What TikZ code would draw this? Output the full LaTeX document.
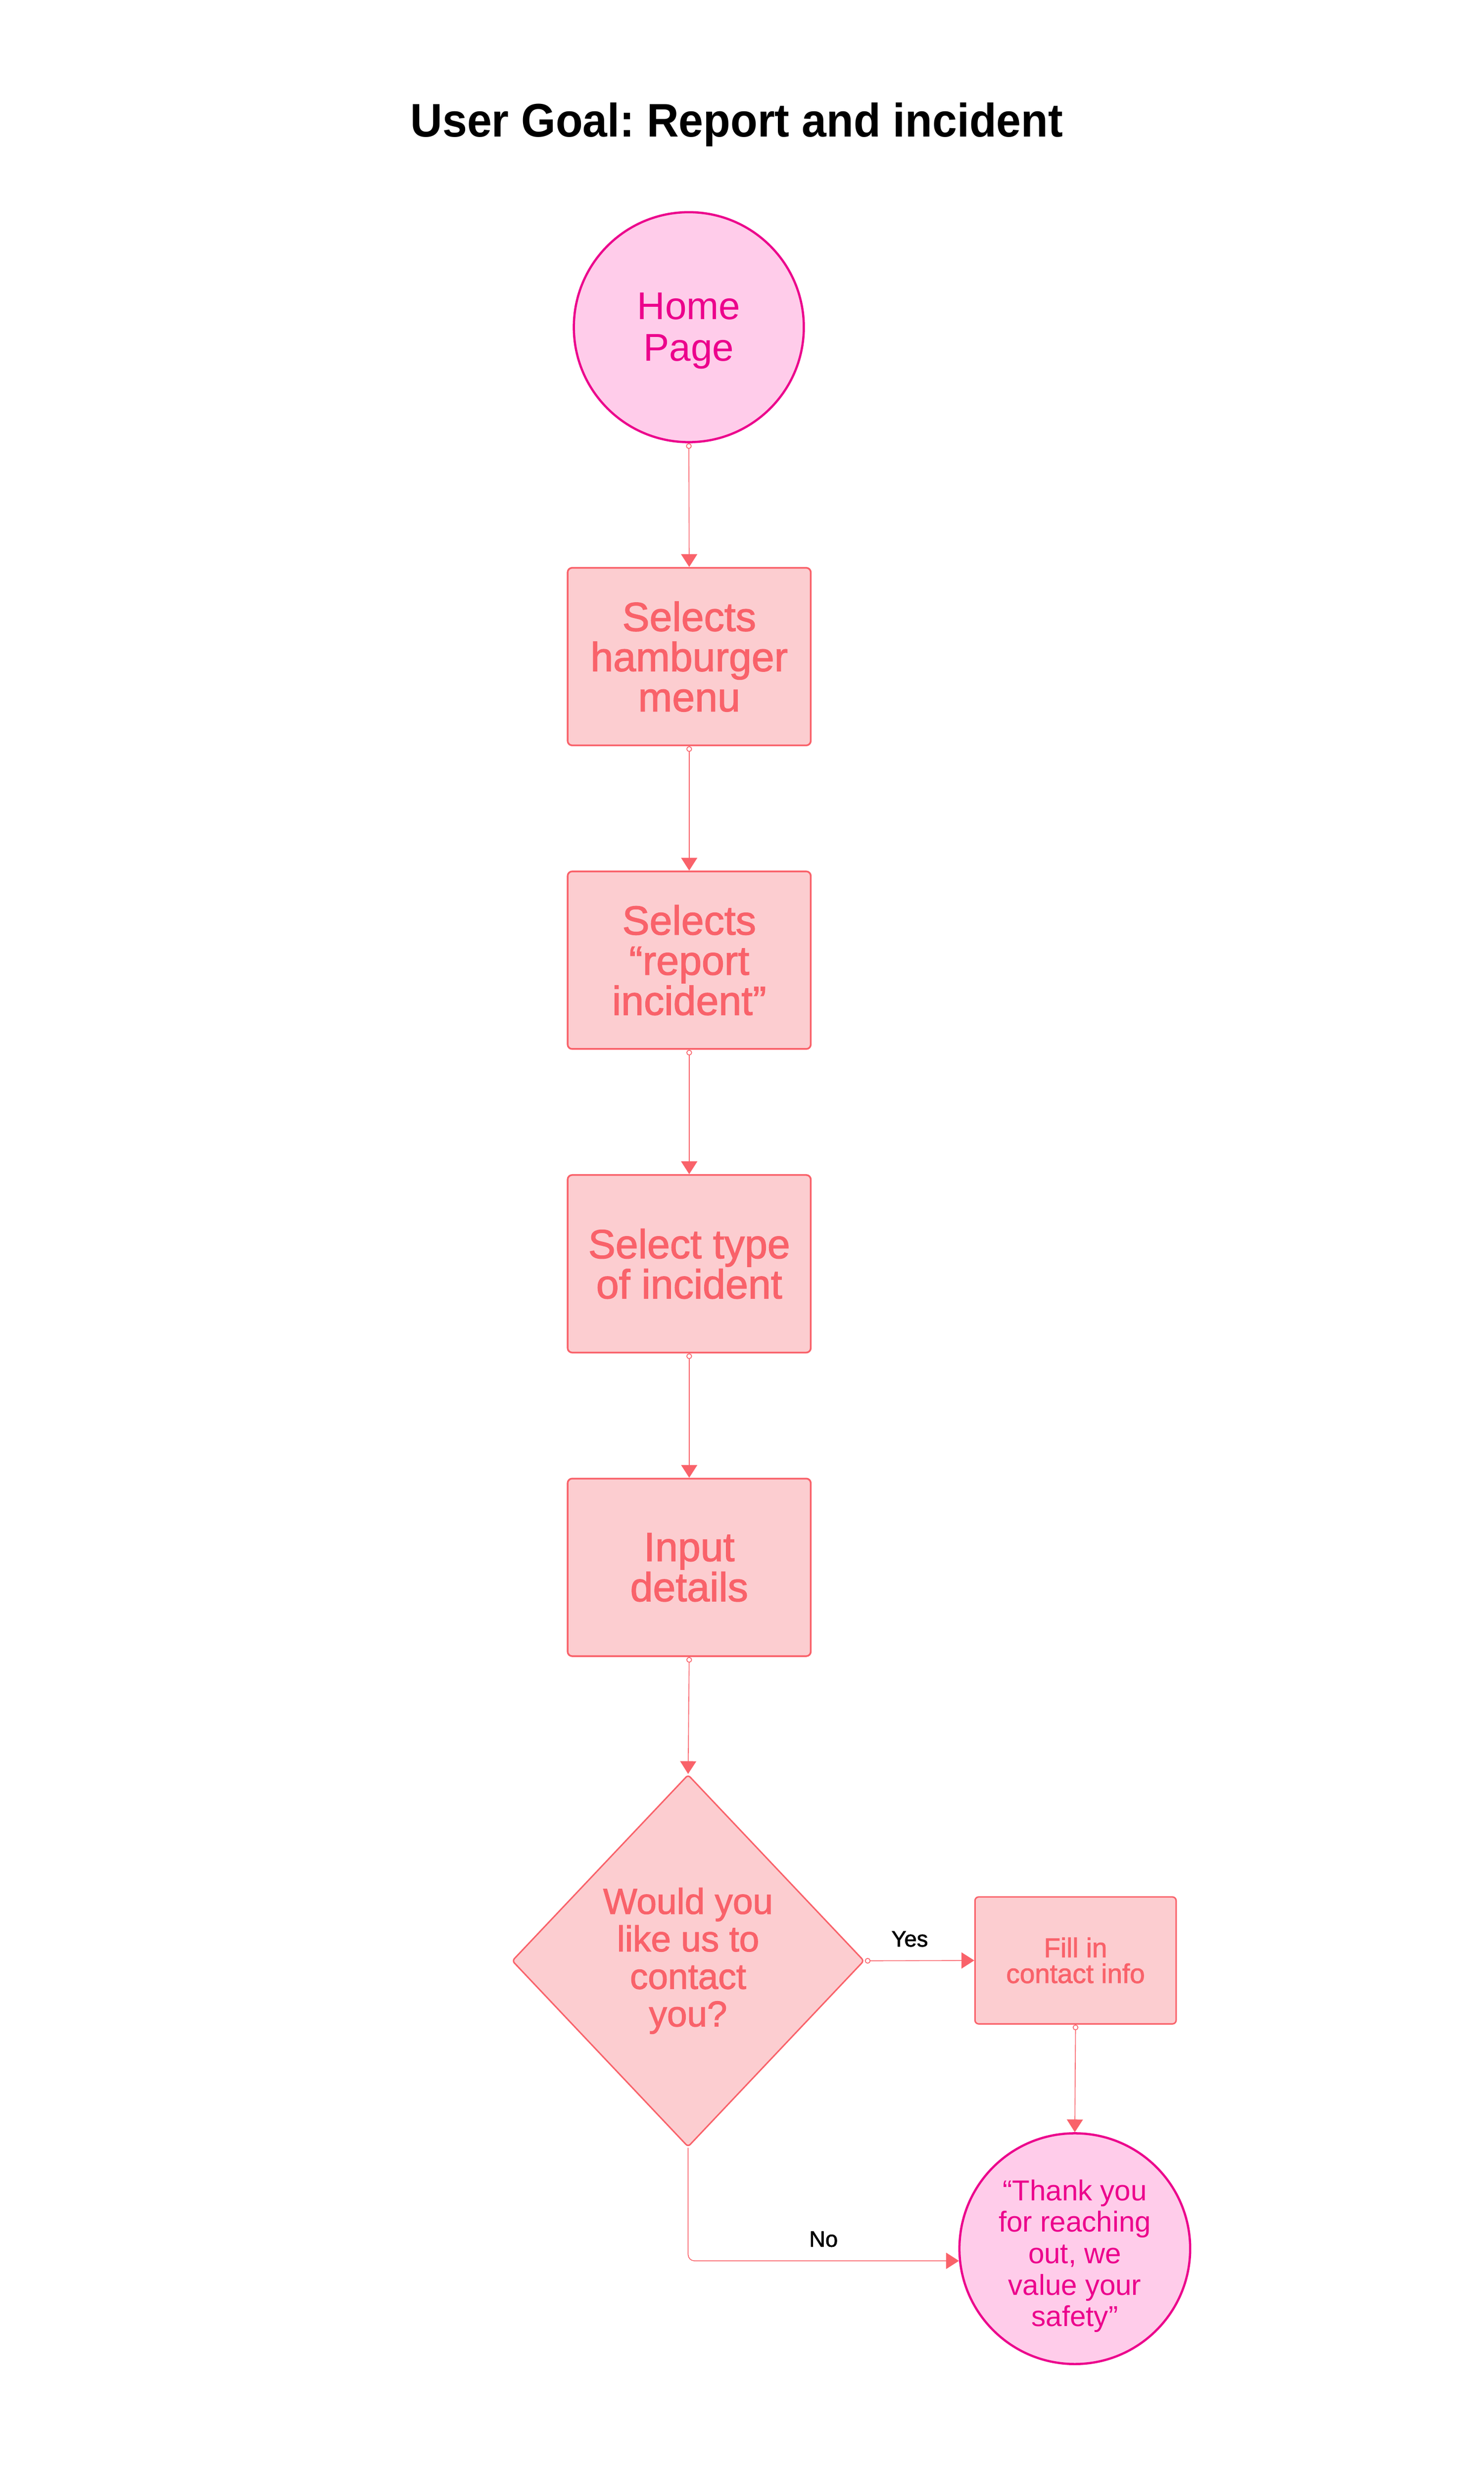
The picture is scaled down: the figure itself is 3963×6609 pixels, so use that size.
\documentclass[tikz,border=0pt]{standalone}
\usepackage{fontspec}
\setmainfont{Liberation Sans}
\newfontfamily\titlefont{Liberation Sans}[FakeStretch=0.94]
\newfontfamily\medfont{Liberation Sans}[FakeBold=1.6]
\usetikzlibrary{shapes.geometric,arrows.meta}
\definecolor{mag}{HTML}{EC008C}
\definecolor{magfill}{HTML}{FFCCEA}
\definecolor{coral}{HTML}{F9626A}
\definecolor{coralfill}{HTML}{FCCDD0}
\tikzset{
  titlestyle/.style={inner sep=0pt, text=black, font=\titlefont\bfseries\fontsize{35.8}{40}\selectfont},
  startend/.style={circle, draw=mag, fill=magfill, line width=1.7pt, minimum size=6.14cm, inner sep=0pt,
    text=mag, align=center, font=\fontsize{29.4}{31.6}\selectfont},
  stepbox/.style={rectangle, rounded corners=0.12cm, draw=coral, fill=coralfill, line width=1.3pt,
    minimum width=6.49cm, minimum height=4.74cm, inner sep=0pt, text=coral, align=center,
    font=\medfont\fontsize{31}{30.5}\selectfont},
  decision/.style={diamond, rounded corners=0.08cm, draw=coral, fill=coralfill, line width=1.1pt,
    minimum width=9.4cm, minimum height=9.94cm, inner sep=0pt, text=coral, align=center,
    font=\medfont\fontsize{27.4}{28.5}\selectfont},
  smallbox/.style={rectangle, rounded corners=0.1cm, draw=coral, fill=coralfill, line width=1.1pt,
    minimum width=5.37cm, minimum height=3.39cm, inner sep=0pt, text=coral, align=center,
    font=\medfont\fontsize{20.6}{19.6}\selectfont},
  conn/.style={draw=coral, line width=0.6pt,
    {Circle[open, length=0.15cm, width=0.15cm, line width=0.6pt, fill=white]}-{Triangle[length=0.34cm, width=0.43cm]}},
  noconn/.style={draw=coral, line width=0.6pt, rounded corners=0.17cm, -{Triangle[length=0.34cm, width=0.43cm]}},
  lab/.style={inner sep=0pt, text=black, font=\medfont\fontsize{17}{20}\selectfont}
}
\begin{document}
\frenchspacing
\begin{tikzpicture}[x=0.01cm, y=-0.01cm]
\path[use as bounding box, fill=white] (0,0) rectangle (3963,6609);

\node[titlestyle, anchor=base] (title) at (1968,366) {User Goal: Report and incident};

\node[startend] (home) at (1840,874) {\rule{0pt}{26pt}Home\\Page};
\node[stepbox] (s1) at (1841,1754) {Selects\\hamburger\\menu};
\node[stepbox] (s2) at (1841,2565) {Selects\\“report\\incident”};
\node[stepbox] (s3) at (1841,3376) {Select type\\of incident};
\node[stepbox] (s4) at (1841,4187) {Input\\details};
\node[decision] (dec) at (1838,5238) {Would you\\like us to\\contact\\you?};
\node[smallbox] (fillin) at (2873,5237) {Fill in\\contact info};
\node[startend, minimum size=6.16cm, font=\fontsize{21.9}{23.9}\selectfont] (thanks) at (2871,6007)
  {\rule{0pt}{27pt}“Thank you\\for reaching\\out, we\\value your\\safety”};

\draw[conn] (home.south) -- (s1.north);
\draw[conn] (s1.south) -- (s2.north);
\draw[conn] (s2.south) -- (s3.north);
\draw[conn] (s3.south) -- (s4.north);
\draw[conn] (s4.south) -- (dec.north);
\draw[conn] (dec.east) -- node[lab, pos=0.41, above=0.36cm] (yes) {Yes} (fillin.west);
\draw[conn] (fillin.south) -- (thanks.north);
\draw[noconn] (dec.south) |- node[lab, pos=0.75, above=0.36cm] (no) {No} (thanks.186);
\end{tikzpicture}
\end{document}
